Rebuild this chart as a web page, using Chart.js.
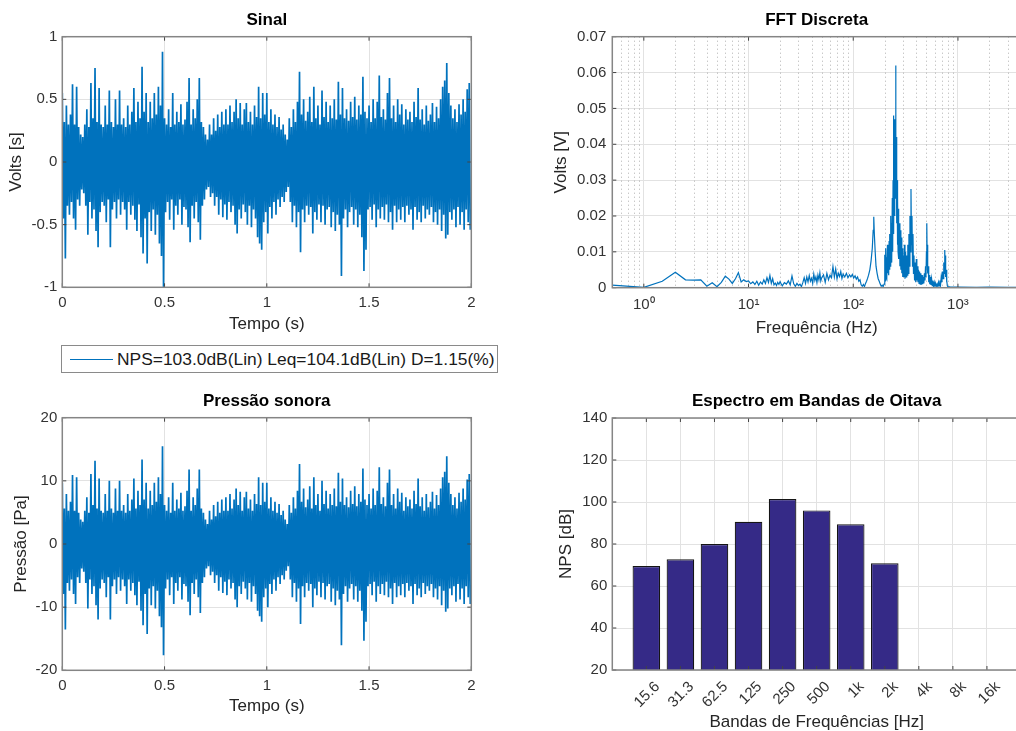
<!DOCTYPE html>
<html>
<head>
<meta charset="utf-8">
<script src="https://cdn.jsdelivr.net/npm/chart.js@4.4.1/dist/chart.umd.min.js"></script>
<style>
  html, body { margin: 0; padding: 0; background: #fff; width: 1016px; height: 731px; overflow: hidden; position: relative; }
  canvas { position: absolute; }
  #legend { position: absolute; left: 61px; top: 345px; width: 435px; height: 26px; border: 1px solid #8a8a8a; background: #fff;
            font: 17.4px "Liberation Sans", Arial, sans-serif; color: #1a1a1a; }
  #legend .swatch { position: absolute; left: 8px; top: 13px; width: 43px; height: 0; border-top: 1px solid #0072bd; }
  #legend .txt { position: absolute; left: 55px; top: 3px; white-space: nowrap; }
</style>
</head>
<body>
<canvas id="cSinal" width="500" height="338" style="left:0;top:0"></canvas>
<canvas id="cFFT" width="510" height="345" style="left:520px;top:0"></canvas>
<canvas id="cPress" width="500" height="360" style="left:0;top:381px"></canvas>
<canvas id="cBars" width="510" height="360" style="left:520px;top:381px"></canvas>
<div id="legend"><div class="swatch"></div><div class="txt"></div></div>
<script>
// signal envelope, one max and one min per 10 ms (volts)
var sigHi = [
  0.55,0.32,0.45,0.30,0.38,0.62,0.30,0.60,0.28,0.22,
  0.20,0.30,0.42,0.28,0.63,0.35,0.75,0.32,0.59,0.30,
  0.28,0.45,0.30,0.57,0.32,0.28,0.50,0.30,0.57,0.30,
  0.35,0.28,0.45,0.30,0.40,0.59,0.32,0.48,0.35,0.76,
  0.40,0.55,0.32,0.48,0.35,0.55,0.38,0.60,0.45,0.88,
  0.35,0.30,0.42,0.28,0.55,0.30,0.40,0.32,0.46,0.30,
  0.34,0.48,0.67,0.30,0.42,0.35,0.50,0.67,0.32,0.28,
  0.22,0.18,0.30,0.22,0.35,0.25,0.38,0.28,0.40,0.30,
  0.42,0.30,0.45,0.32,0.40,0.50,0.35,0.47,0.30,0.42,
  0.47,0.32,0.40,0.30,0.45,0.36,0.60,0.35,0.55,0.38,
  0.55,0.32,0.42,0.30,0.38,0.28,0.36,0.26,0.30,0.22,
  0.18,0.35,0.28,0.42,0.32,0.48,0.72,0.38,0.50,0.33,
  0.40,0.52,0.32,0.60,0.35,0.45,0.30,0.57,0.36,0.48,
  0.32,0.45,0.35,0.50,0.34,0.64,0.38,0.59,0.35,0.42,
  0.33,0.48,0.36,0.52,0.34,0.45,0.38,0.68,0.40,0.35,
  0.45,0.32,0.50,0.35,0.48,0.69,0.36,0.42,0.34,0.55,
  0.67,0.35,0.45,0.32,0.50,0.38,0.46,0.30,0.42,0.34,
  0.40,0.32,0.48,0.36,0.59,0.34,0.42,0.30,0.45,0.33,
  0.38,0.47,0.32,0.44,0.35,0.50,0.60,0.65,0.79,0.55,
  0.45,0.35,0.42,0.32,0.46,0.38,0.50,0.40,0.58,0.63
];
var sigLo = [
  -0.45,-0.77,-0.35,-0.42,-0.32,-0.45,-0.54,-0.30,-0.35,-0.22,
  -0.25,-0.35,-0.58,-0.32,-0.45,-0.38,-0.55,-0.68,-0.40,-0.32,
  -0.35,-0.48,-0.30,-0.68,-0.38,-0.32,-0.45,-0.30,-0.42,-0.32,
  -0.38,-0.54,-0.32,-0.42,-0.35,-0.46,-0.55,-0.34,-0.60,-0.73,
  -0.45,-0.81,-0.40,-0.55,-0.38,-0.58,-0.42,-0.65,-0.75,-1.00,
  -0.40,-0.32,-0.46,-0.30,-0.54,-0.35,-0.42,-0.30,-0.50,-0.36,
  -0.38,-0.52,-0.64,-0.35,-0.45,-0.32,-0.48,-0.62,-0.35,-0.30,
  -0.22,-0.20,-0.28,-0.25,-0.35,-0.28,-0.42,-0.30,-0.44,-0.34,
  -0.46,-0.32,-0.40,-0.35,-0.50,-0.57,-0.38,-0.45,-0.34,-0.40,
  -0.50,-0.35,-0.52,-0.38,-0.45,-0.60,-0.65,-0.70,-0.48,-0.40,
  -0.57,-0.36,-0.45,-0.32,-0.42,-0.30,-0.36,-0.28,-0.32,-0.24,
  -0.20,-0.32,-0.48,-0.35,-0.52,-0.40,-0.72,-0.38,-0.48,-0.35,
  -0.42,-0.36,-0.57,-0.40,-0.46,-0.34,-0.48,-0.35,-0.50,-0.38,
  -0.36,-0.52,-0.40,-0.55,-0.42,-0.50,-0.91,-0.45,-0.38,-0.52,
  -0.40,-0.36,-0.50,-0.38,-0.52,-0.42,-0.60,-0.87,-0.70,-0.38,
  -0.36,-0.46,-0.34,-0.52,-0.38,-0.45,-0.36,-0.46,-0.34,-0.48,
  -0.40,-0.54,-0.35,-0.48,-0.38,-0.46,-0.36,-0.48,-0.35,-0.42,
  -0.38,-0.54,-0.36,-0.46,-0.40,-0.48,-0.35,-0.45,-0.38,-0.42,
  -0.36,-0.48,-0.40,-0.50,-0.38,-0.55,-0.42,-0.61,-0.58,-0.40,
  -0.46,-0.38,-0.52,-0.36,-0.50,-0.40,-0.54,-0.38,-0.48,-0.54
];
var binSec = 0.01;     // seconds per envelope bin
var paPerVolt = 17.6;  // microphone calibration, Pa per volt

// FFT magnitude (Hz, V)
var fftFreq = [0.5,1,1.5,2,2.5,3,3.5,4,4.5,5,5.5,6,6.5,7,7.5,8,8.5,9,9.5,10,
  10.5,11,11.5,12,12.5,13,13.5,14,14.5,15,15.5,16,16.5,17,17.5,18,18.5,19,19.5,20,
  21,22,23,24,25,26,27,28,29,30,31,32,33,34,35,36,37,38,39,40,41,42,43,44,45,46,47,48,49,50,
  52,54,56,58,60,62,64,66,68,70,72,74,76,78,80,83,86,89,92,95,98,101,104,107,110,113,116,119,
  122,125,128,131,134,137,140,144,148,152,155,157,159,162,165,169,173,177,181,185,189,193,197,
  200,202,204,206,208,210,212,214,216,218,220,222,224,226,228,230,232,234,236,238,240,242,244,
  246,248,250,252,254,256,258,260,262,264,266,268,270,273,276,279,282,285,288,291,294,297,300,
  304,308,312,316,320,324,328,332,336,340,344,348,352,356,360,364,368,372,376,380,385,390,395,
  400,405,410,415,420,425,430,436,442,448,454,460,466,472,478,484,490,495,500,504,508,512,516,
  520,526,532,538,545,552,560,568,576,585,594,603,612,622,632,642,652,662,672,682,692,702,712,
  722,732,740,748,754,760,766,772,778,784,792,800,850,1000,1500,2000,3000,4000];
var fftAmp = [0.0007,0.0001,0.0018,0.0043,0.0022,0.0021,0.0022,0.0004,0.0014,0.0003,0.0015,0.0032,0.0024,0.0012,0.0025,0.0042,0.0016,0.0022,0.0017,0.0019,
  0.0011,0.0016,0.0009,0.0018,0.0007,0.0016,0.0010,0.0022,0.0012,0.0028,0.0015,0.0034,0.0012,0.0025,0.0008,0.0013,0.0006,0.0015,0.0009,0.0017,
  0.0005,0.0014,0.0010,0.0019,0.0008,0.0033,0.0011,0.0004,0.0012,0.0006,0.0010,0.0003,0.0014,0.0028,0.0012,0.0030,0.0016,0.0034,0.0018,0.0026,0.0012,0.0038,0.0020,0.0030,0.0014,0.0035,0.0022,0.0041,0.0019,0.0028,
  0.0036,0.0015,0.0040,0.0022,0.0035,0.0028,0.0059,0.0030,0.0052,0.0025,0.0040,0.0031,0.0045,0.0026,0.0038,0.0030,0.0040,0.0028,0.0036,0.0030,0.0037,0.0027,0.0033,0.0024,0.0030,0.0018,0.0022,0.0008,
  0.0004,0.0009,0.0003,0.0012,0.0018,0.0026,0.0035,0.0050,0.0075,0.0110,0.0160,0.0198,0.0150,0.0100,0.0060,0.0040,0.0025,0.0018,0.0010,0.0004,0.0007,0.0003,0.0010,
  0.0092,0.0020,0.0110,0.0030,0.0085,0.0025,0.0120,0.0040,0.0100,0.0035,0.0130,0.0050,0.0150,0.0060,0.0200,0.0080,0.0180,0.0070,0.0250,0.0100,0.0300,0.0480,0.0150,
  0.0400,0.0200,0.0470,0.0250,0.0620,0.0300,0.0420,0.0180,0.0300,0.0120,0.0250,0.0100,0.0220,0.0080,0.0180,0.0060,0.0160,0.0050,0.0140,0.0040,0.0110,0.0030,0.0090,
  0.0030,0.0120,0.0025,0.0100,0.0030,0.0090,0.0035,0.0120,0.0040,0.0150,0.0060,0.0200,0.0100,0.0275,0.0120,0.0200,0.0060,0.0150,0.0040,0.0090,0.0020,0.0070,0.0015,
  0.0080,0.0020,0.0060,0.0015,0.0050,0.0012,0.0045,0.0010,0.0040,0.0008,0.0035,0.0010,0.0030,0.0012,0.0040,0.0020,0.0060,0.0030,0.0100,0.0180,0.0080,0.0120,0.0040,
  0.0060,0.0015,0.0035,0.0010,0.0030,0.0008,0.0025,0.0006,0.0020,0.0005,0.0015,0.0004,0.0012,0.0004,0.0010,0.0003,0.0015,0.0005,0.0020,0.0008,0.0030,0.0015,0.0045,
  0.0025,0.0070,0.0040,0.0105,0.0060,0.0090,0.0030,0.0050,0.0015,0.0020,0.0005,0.0003,0.0002,0.0002,0.0001,0.0002,0.0001,0.0001];

// octave bands
var bandLabels = ['15.6','31.3','62.5','125','250','500','1k','2k','4k','8k','16k'];
var npsValues = [69.5, 72.7, 80.0, 90.6, 101.4, 96.0, 89.4, 70.8];

var legendText = 'NPS=103.0dB(Lin) Leq=104.1dB(Lin) D=1.15(%)';

Chart.defaults.font.family = '"Liberation Sans", Arial, Helvetica, sans-serif';
Chart.defaults.color = '#333';
Chart.defaults.animation = false;

var blue = '#0072bd';
var gridCol = '#e2e2e2';
var tickFont = {size: 15};

function envelopeToPoints(hi, lo, k) {
  var pts = [];
  for (var i = 0; i < hi.length; i++) {
    pts.push({x: i * binSec, y: hi[i] * k});
    pts.push({x: i * binSec + binSec / 2, y: lo[i] * k});
  }
  return pts;
}

function isDecade(v) {
  var l = Math.log10(v);
  return Math.abs(l - Math.round(l)) < 1e-9;
}

// matlab style numbers: 1, 0.5, -1 (no trailing .0)
function plainNum(v) {
  return String(Math.round(v * 10000) / 10000);
}

function plotTitle(text, pt, pb) {
  return {display: true, text: text, fullSize: false, color: '#000',
          font: {size: 17, weight: 'bold'}, padding: {top: pt, bottom: pb}};
}
function axisTitle(text, pad) {
  return {display: true, text: text, color: '#262626', font: {size: 17}, padding: pad};
}

// box round the axes plus small inward ticks, like matlab "box on"
var boxPlugin = {
  id: 'axesBox',
  afterDraw: function(chart) {
    var ctx = chart.ctx, a = chart.chartArea, xs = chart.scales.x, ys = chart.scales.y;
    ctx.save();
    ctx.strokeStyle = '#444';
    ctx.lineWidth = 1;
    xs.ticks.forEach(function(t) {
      if (xs.type === 'logarithmic' && !isDecade(t.value)) return;
      var px = xs.getPixelForValue(t.value);
      ctx.beginPath();
      ctx.moveTo(px, a.bottom); ctx.lineTo(px, a.bottom - 4);
      ctx.moveTo(px, a.top); ctx.lineTo(px, a.top + 4);
      ctx.stroke();
    });
    ys.ticks.forEach(function(t) {
      var py = ys.getPixelForValue(t.value);
      ctx.beginPath();
      ctx.moveTo(a.left, py); ctx.lineTo(a.left + 4, py);
      ctx.moveTo(a.right, py); ctx.lineTo(a.right - 4, py);
      ctx.stroke();
    });
    ctx.strokeStyle = '#858585';
    ctx.lineWidth = 1.5;
    ctx.strokeRect(a.left, a.top, a.right - a.left, a.bottom - a.top);
    ctx.restore();
  }
};

// dotted minor grid on the log axis
var minorGridPlugin = {
  id: 'minorGrid',
  beforeDatasetsDraw: function(chart) {
    var ctx = chart.ctx, a = chart.chartArea, xs = chart.scales.x;
    ctx.save();
    ctx.strokeStyle = 'rgba(60,60,60,0.4)';
    ctx.lineWidth = 1;
    ctx.setLineDash([1, 3]);
    xs.ticks.forEach(function(t) {
      if (isDecade(t.value)) return;
      var px = Math.round(xs.getPixelForValue(t.value)) + 0.5;
      ctx.beginPath(); ctx.moveTo(px, a.top); ctx.lineTo(px, a.bottom); ctx.stroke();
    });
    ctx.restore();
  }
};

function timeChart(id, data, label, yMin, yMax, yStep, yTitle, o) {
  return new Chart(document.getElementById(id), {
    type: 'line',
    data: {datasets: [{label: label, data: data, borderColor: blue, borderWidth: 1.7, pointRadius: 0, tension: 0}]},
    options: {
      responsive: false,
      layout: {padding: {left: 0, right: 28.7, top: 0, bottom: 0}},
      plugins: {legend: {display: false}, tooltip: {enabled: false}, title: plotTitle(o.title, 10.5, 5.8)},
      scales: {
        x: {type: 'linear', min: 0, max: 2,
            ticks: {stepSize: 0.5, padding: 7, font: tickFont, maxRotation: 0, callback: plainNum},
            grid: {color: gridCol, drawTicks: false}, border: {display: false},
            title: axisTitle('Tempo (s)', {top: 0, bottom: o.xPad}),
            afterFit: function(s) { s.height = o.xH; }},
        y: {min: yMin, max: yMax,
            ticks: {stepSize: yStep, padding: 5, font: tickFont, callback: plainNum},
            grid: {color: gridCol, drawTicks: false}, border: {display: false},
            title: axisTitle(yTitle, {top: o.yPad, bottom: 0}),
            afterFit: function(s) { s.width = 62.3; }}
      }
    },
    plugins: [boxPlugin]
  });
}

timeChart('cSinal', envelopeToPoints(sigHi, sigLo, 1), 'Sinal', -1, 1, 0.5, 'Volts [s]',
          {title: 'Sinal', xPad: 3.8, xH: 50.7, yPad: 5.8});
var pressChart = timeChart('cPress', envelopeToPoints(sigHi, sigLo, paPerVolt), legendText, -20, 20, 10, 'Pressão [Pa]',
          {title: 'Pressão sonora', xPad: 24.1, xH: 70.7, yPad: 10.8});

// legend box between the two left plots
document.querySelector('#legend .txt').textContent = pressChart.data.datasets[0].label;

// FFT
var logTicks = [];
[0.1, 1, 10, 100, 1000].forEach(function(d) {
  for (var m = 1; m <= 9; m++) {
    var v = +(m * d).toPrecision(3);
    if (v >= 0.5 && v <= 4000) logTicks.push(v);
  }
});
var sup = ['\u2070', '\u00b9', '\u00b2', '\u00b3'];

new Chart(document.getElementById('cFFT'), {
  type: 'line',
  data: {datasets: [{data: fftFreq.map(function(f, i) { return {x: f, y: fftAmp[i]}; }),
                     borderColor: blue, borderWidth: 1.2, pointRadius: 0, tension: 0}]},
  options: {
    responsive: false,
    layout: {padding: {left: 0, right: 9, top: 0, bottom: 0}},
    plugins: {legend: {display: false}, tooltip: {enabled: false}, title: plotTitle('FFT Discreta', 10.5, 5.8)},
    scales: {
      x: {type: 'logarithmic', min: 0.5, max: 4000,
          afterBuildTicks: function(s) { s.ticks = logTicks.map(function(v) { return {value: v}; }); },
          ticks: {autoSkip: false, maxRotation: 0, padding: 8, font: tickFont,
                  callback: function(v) { return isDecade(v) ? '10' + sup[Math.round(Math.log10(v))] : ''; }},
          grid: {drawTicks: false, color: function(c) { return c.tick && isDecade(c.tick.value) ? gridCol : 'rgba(0,0,0,0)'; }},
          border: {display: false},
          title: axisTitle('Frequência (Hz)', {top: 0, bottom: 6.3}),
          afterFit: function(s) { s.height = 57.3; }},
      y: {min: 0, max: 0.07,
          ticks: {stepSize: 0.01, padding: 6, font: tickFont, callback: plainNum},
          grid: {color: gridCol, drawTicks: false}, border: {display: false},
          title: axisTitle('Volts [V]', {top: 31.5, bottom: 0}),
          afterFit: function(s) { s.width = 92.3; }}
    }
  },
  plugins: [minorGridPlugin, boxPlugin]
});

// octave band bars
new Chart(document.getElementById('cBars'), {
  type: 'bar',
  data: {datasets: [{data: npsValues.map(function(v, i) { return {x: i + 1, y: v}; }),
                     backgroundColor: 'rgb(53,42,135)', borderColor: '#151515', borderWidth: 1.2,
                     barPercentage: 0.81, categoryPercentage: 1}]},
  options: {
    responsive: false,
    layout: {padding: {left: 0, right: 9, top: 0, bottom: 0}},
    plugins: {legend: {display: false}, tooltip: {enabled: false}, title: plotTitle('Espectro em Bandas de Oitava', 10.5, 6.1)},
    scales: {
      x: {type: 'linear', min: 0, max: 12, offset: false,
          afterBuildTicks: function(s) { s.ticks = bandLabels.map(function(b, i) { return {value: i + 1}; }); },
          ticks: {autoSkip: false, minRotation: 45, maxRotation: 45, labelOffset: 11, padding: 8, font: tickFont,
                  callback: function(v) { return bandLabels[v - 1]; }},
          grid: {color: gridCol, drawTicks: false, offset: false}, border: {display: false},
          title: axisTitle('Bandas de Frequências [Hz]', {top: 0, bottom: 8.5}),
          afterFit: function(s) { s.height = 71; }},
      y: {min: 20, max: 140,
          ticks: {stepSize: 20, padding: 5, font: tickFont, callback: plainNum},
          grid: {color: gridCol, drawTicks: false}, border: {display: false},
          title: axisTitle('NPS [dB]', {top: 36.5, bottom: 0}),
          afterFit: function(s) { s.width = 92.3; }}
    }
  },
  plugins: [boxPlugin]
});
</script>
</body>
</html>
